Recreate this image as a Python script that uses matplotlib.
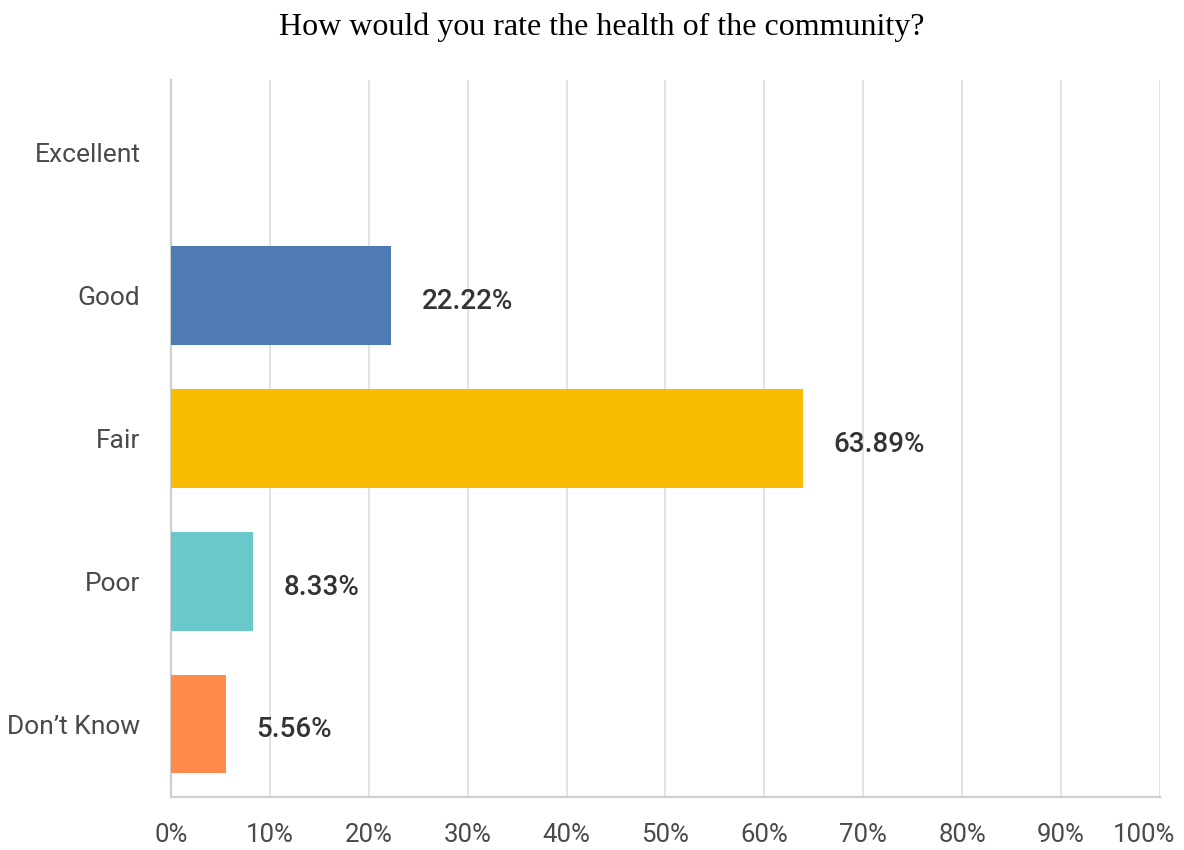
import matplotlib.pyplot as plt
import matplotlib.transforms as mtransforms

# Survey responses: share of respondents per rating (%)
categories = ["Excellent", "Good", "Fair", "Poor", "Don\u2019t Know"]
shares = [0.0, 22.22, 63.89, 8.33, 5.56]
bar_colors = ["#4E7BB4", "#4E7BB4", "#F8BD00", "#6BC8CA", "#FF8A4C"]
x_ticks = list(range(0, 101, 10))
x_ticklabels = [f"{t}%" for t in x_ticks]

title = "How would you rate the health of the community?"

fig = plt.figure(figsize=(11.84, 8.5), dpi=100)
ax = fig.add_axes([0.1444, 0.0624, 0.8353, 0.8435])

ypos = list(range(len(categories)))
ax.barh(ypos, shares, height=0.69, color=bar_colors, zorder=3)

# value labels to the right of each non-empty bar
for y, v in zip(ypos, shares):
    if v > 0:
        ax.text(v + 3.1, y + 0.04, f"{v:.2f}%", va="center", ha="left",
                fontsize=20, family="Roboto", fontweight="medium",
                color="#333333", zorder=4)

ax.set_xlim(0, 100)
ax.set_ylim(len(categories) - 0.49, -0.51)
ax.set_xticks(x_ticks)
ax.set_xticklabels(x_ticklabels, fontsize=18.5, family="Roboto", color="#4a4a4a")
ax.set_yticks(ypos)
ax.set_yticklabels(categories, fontsize=19, family="Roboto", color="#4a4a4a")
ax.tick_params(axis="both", length=0)
ax.tick_params(axis="y", pad=22)
ax.tick_params(axis="x", pad=19)

# pull the last tick label in so it stays inside the figure
last = ax.get_xticklabels()[-1]
last.set_transform(last.get_transform() +
                   mtransforms.ScaledTranslation(-0.16, 0, fig.dpi_scale_trans))

ax.grid(True, axis="x", color="#e3e3e3", linewidth=1.4, zorder=0)
for side in ["top", "right"]:
    ax.spines[side].set_visible(False)
for side in ["left", "bottom"]:
    ax.spines[side].set_color("#cfcfcf")
    ax.spines[side].set_linewidth(1.6)

fig.text(0.508, 0.968, title, ha="center", va="center",
         fontsize=23, family="Liberation Serif", color="black")

plt.savefig("out.png", dpi=100)
